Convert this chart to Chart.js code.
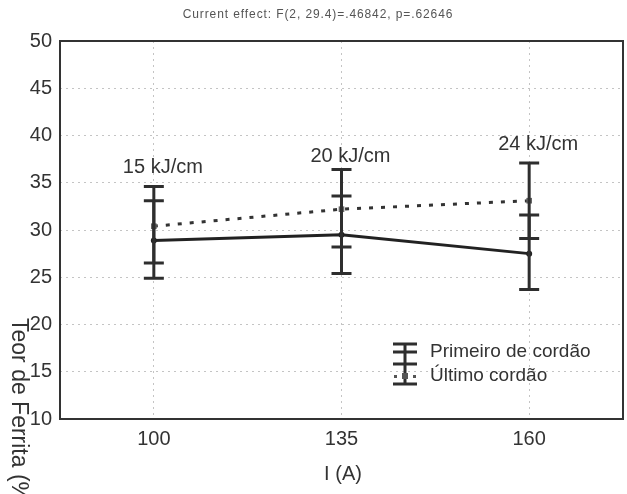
<!DOCTYPE html>
<html>
<head>
<meta charset="utf-8">
<script src="https://cdn.jsdelivr.net/npm/chart.js@4"></script>
<style>
  html, body { margin: 0; padding: 0; background: #fff; }
  #wrap { width: 627px; height: 494px; }
</style>
</head>
<body>
<div id="wrap"><canvas id="chart" width="627" height="494"></canvas></div>
<script>
var categories = ['100', '135', '160'];
var heatLabels = ['15 kJ/cm', '20 kJ/cm', '24 kJ/cm'];
var heatLabelLevel = [36.6, 37.8, 39.0];

var primeiroMean = [28.9, 29.5, 27.5];
var primeiroLow = [24.9, 25.4, 23.7];
var primeiroHigh = [33.1, 33.6, 31.6];

var ultimoMean = [30.4, 32.2, 33.1];
var ultimoLow = [26.5, 28.2, 29.1];
var ultimoHigh = [34.6, 36.4, 37.1];

var yTicks = [10, 15, 20, 25, 30, 35, 40, 45, 50];

var titleText = 'Current effect: F(2, 29.4)=.46842, p=.62646';
var xTitle = 'I (A)';
var yTitle = 'Teor de Ferrita (%)';
var legendNames = ['Primeiro de cordão', 'Último cordão'];

var FONT = '"Liberation Sans", Arial, sans-serif';

// error bars, frame, labels, legend
var extras = {
    id: 'extras',
    afterDatasetsDraw: function (chart) {
        var ctx = chart.ctx;
        var xs = chart.scales.x, ys = chart.scales.y;
        var area = chart.chartArea;

        ctx.save();
        ctx.strokeStyle = '#2e2e2e';
        ctx.lineWidth = 3;
        var bars = [[primeiroLow, primeiroHigh], [ultimoLow, ultimoHigh]];
        bars.forEach(function (b) {
            for (var i = 0; i < categories.length; i++) {
                var x = xs.getPixelForValue(i);
                var y1 = ys.getPixelForValue(b[0][i]);
                var y2 = ys.getPixelForValue(b[1][i]);
                ctx.beginPath();
                ctx.moveTo(x, y1); ctx.lineTo(x, y2);
                ctx.moveTo(x - 10, y1); ctx.lineTo(x + 10, y1);
                ctx.moveTo(x - 10, y2); ctx.lineTo(x + 10, y2);
                ctx.stroke();
            }
        });

        // frame
        ctx.lineWidth = 2;
        ctx.strokeStyle = '#333';
        ctx.strokeRect(area.left, area.top, area.right - area.left, area.bottom - area.top);

        // heat input labels
        ctx.fillStyle = '#333';
        ctx.font = '20px ' + FONT;
        ctx.textAlign = 'center';
        ctx.textBaseline = 'middle';
        for (var j = 0; j < heatLabels.length; j++) {
            ctx.fillText(heatLabels[j], xs.getPixelForValue(j) + 9, ys.getPixelForValue(heatLabelLevel[j]));
        }

        // legend
        var lx = 405, ly = 352;
        ctx.strokeStyle = '#2e2e2e';
        ctx.lineWidth = 3;
        ctx.beginPath();
        ctx.moveTo(lx, ly - 8); ctx.lineTo(lx, ly + 32);
        ctx.moveTo(lx - 12, ly - 8); ctx.lineTo(lx + 12, ly - 8);
        ctx.moveTo(lx - 12, ly); ctx.lineTo(lx + 12, ly);
        ctx.moveTo(lx - 12, ly + 12); ctx.lineTo(lx + 12, ly + 12);
        ctx.moveTo(lx - 12, ly + 32); ctx.lineTo(lx + 12, ly + 32);
        ctx.stroke();
        ctx.fillStyle = '#555';
        ctx.fillRect(lx - 3, ly + 21, 6, 6);
        ctx.fillRect(lx - 11, ly + 23, 3, 3);
        ctx.fillRect(lx + 8, ly + 23, 3, 3);

        ctx.fillStyle = '#333';
        ctx.font = '19px ' + FONT;
        ctx.textAlign = 'left';
        ctx.fillText(legendNames[0], 430, 352);
        ctx.fillText(legendNames[1], 430, 376);

        // title
        ctx.fillStyle = '#555';
        ctx.font = '12px ' + FONT;
        ctx.letterSpacing = '0.9px';
        ctx.textAlign = 'center';
        ctx.fillText(titleText, 318, 15);
        ctx.letterSpacing = '0px';

        // axis titles
        ctx.fillStyle = '#333';
        ctx.font = '20px ' + FONT;
        ctx.fillText(xTitle, 343, 474);
        ctx.font = '23px ' + FONT;
        ctx.translate(18, 318);
        ctx.rotate(Math.PI / 2);
        ctx.textAlign = 'left';
        ctx.fillText(yTitle, 0, 0);
        ctx.restore();
    }
};

new Chart(document.getElementById('chart').getContext('2d'), {
    type: 'line',
    data: {
        labels: categories,
        datasets: [{
            label: legendNames[0],
            data: primeiroMean,
            borderColor: '#222',
            borderWidth: 3,
            pointRadius: 3,
            pointBackgroundColor: '#222',
            pointBorderWidth: 0,
            tension: 0
        }, {
            label: legendNames[1],
            data: ultimoMean,
            borderColor: '#333',
            borderWidth: 3,
            borderDash: [4, 8],
            pointStyle: 'rect',
            pointRadius: 4,
            pointBackgroundColor: '#666',
            pointBorderWidth: 0,
            tension: 0
        }]
    },
    options: {
        responsive: false,
        animation: false,
        layout: { padding: { top: 41, right: 2, left: 0, bottom: 0 } },
        plugins: { legend: { display: false }, tooltip: { enabled: false } },
        scales: {
            x: {
                offset: true,
                grid: { offset: false, color: '#c4c4c4', lineWidth: 1, drawTicks: false },
                border: { display: false, dash: [2, 4] },
                ticks: { color: '#333', font: { family: FONT, size: 20 }, padding: 8 },
                afterFit: function (s) { s.height = 75; }
            },
            y: {
                min: 10,
                max: 50,
                afterBuildTicks: function (s) { s.ticks = yTicks.map(function (v) { return { value: v }; }); },
                grid: { color: '#c4c4c4', lineWidth: 1, drawTicks: false },
                border: { display: false, dash: [2, 4] },
                ticks: { color: '#333', font: { family: FONT, size: 20 }, padding: 8 },
                afterFit: function (s) { s.width = 60; }
            }
        }
    },
    plugins: [extras]
});
</script>
</body>
</html>
